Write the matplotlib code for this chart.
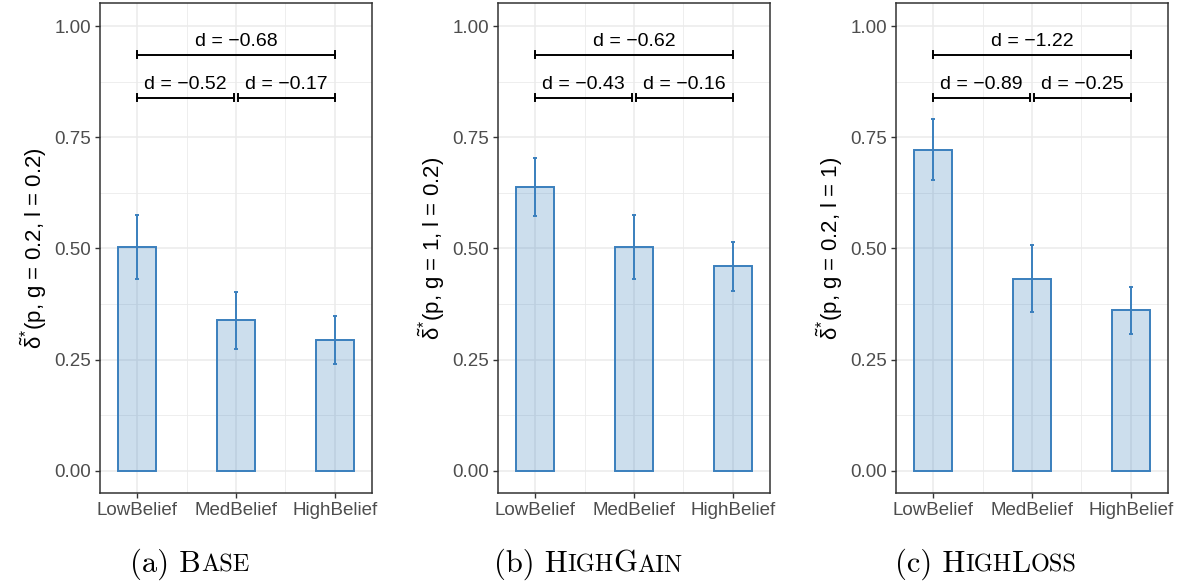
import numpy as np
import matplotlib
matplotlib.use("Agg")
import matplotlib.pyplot as plt
from matplotlib.offsetbox import TextArea, HPacker, AnnotationBbox

plt.rcParams['font.family'] = ['Liberation Sans', 'DejaVu Sans']
plt.rcParams['mathtext.fontset'] = 'custom'
plt.rcParams['mathtext.rm'] = 'Liberation Sans'
plt.rcParams['mathtext.it'] = 'Liberation Sans'

# data
categories = ['LowBelief', 'MedBelief', 'HighBelief']

base_mean = [0.504, 0.339, 0.293]
base_low = [0.432, 0.274, 0.241]
base_high = [0.576, 0.403, 0.347]
base_d = ['d = \u22120.52', 'd = \u22120.17', 'd = \u22120.68']

gain_mean = [0.639, 0.504, 0.461]
gain_low = [0.573, 0.432, 0.404]
gain_high = [0.704, 0.576, 0.514]
gain_d = ['d = \u22120.43', 'd = \u22120.16', 'd = \u22120.62']

loss_mean = [0.722, 0.432, 0.361]
loss_low = [0.653, 0.358, 0.308]
loss_high = [0.791, 0.508, 0.414]
loss_d = ['d = \u22120.89', 'd = \u22120.25', 'd = \u22121.22']

ylabels = [r'$\tilde{\delta}^{*}$(p, g = 0.2, l = 0.2)',
           r'$\tilde{\delta}^{*}$(p, g = 1, l = 0.2)',
           r'$\tilde{\delta}^{*}$(p, g = 0.2, l = 1)']

# captions split into (text, small caps?) pieces
captions = [[('(a) B', False), ('ASE', True)],
            [('(b) H', False), ('IGH', True), ('G', False), ('AIN', True)],
            [('(c) H', False), ('IGH', True), ('L', False), ('OSS', True)]]

panels = [(base_mean, base_low, base_high, base_d),
          (gain_mean, gain_low, gain_high, gain_d),
          (loss_mean, loss_low, loss_high, loss_d)]

edge = '#3A7FBD'
fill = (0.23, 0.50, 0.74, 0.26)
grid_col = '#EBEBEB'
text_grey = '#4D4D4D'

fig = plt.figure(figsize=(11.84, 5.85), dpi=100)

lefts = [100, 498, 896]
caption_x = [190, 588, 986]
W, H = 1184, 585

x = np.arange(1, 4)

for i, (mean, low, high, dlab) in enumerate(panels):
    ax = fig.add_axes([lefts[i] / W, (H - 493) / H, 272 / W, 490 / H])
    ax.set_xlim(0.626, 3.374)
    ax.set_ylim(-0.05, 1.052)

    ax.set_yticks([0, 0.25, 0.5, 0.75, 1.0])
    ax.set_yticks([0.125, 0.375, 0.625, 0.875], minor=True)
    ax.set_xticks(x)
    ax.set_xticks([1.5, 2.5], minor=True)
    ax.set_xticklabels(categories)
    ax.set_yticklabels(['0.00', '0.25', '0.50', '0.75', '1.00'])
    ax.grid(which='major', color=grid_col, lw=1.1)
    ax.grid(which='minor', color=grid_col, lw=0.6)
    ax.set_axisbelow(True)
    ax.tick_params(which='major', direction='out', length=3.5, width=1.0,
                   color='#333333', labelcolor=text_grey, labelsize=13.5, pad=3)
    ax.tick_params(which='minor', length=0)
    for s in ax.spines.values():
        s.set_color('#333333')
        s.set_linewidth(1.1)

    ax.bar(x, mean, width=0.38, facecolor=fill, edgecolor=edge, linewidth=1.4, zorder=3)
    err = [np.array(mean) - np.array(low), np.array(high) - np.array(mean)]
    ax.errorbar(x, mean, yerr=err, fmt='none', ecolor=edge, elinewidth=1.4,
                capsize=1.2, capthick=1.4, zorder=4)

    # significance brackets
    tip = 0.008
    brackets = [(1, 1.98, 0.839, dlab[0]), (2.02, 3, 0.839, dlab[1]), (1, 3, 0.936, dlab[2])]
    for x0, x1, yb, lab in brackets:
        ax.plot([x0, x1], [yb, yb], color='black', lw=1.4, zorder=5)
        ax.plot([x0, x0], [yb - tip, yb + tip], color='black', lw=1.4, zorder=5)
        ax.plot([x1, x1], [yb - tip, yb + tip], color='black', lw=1.4, zorder=5)
        ax.text((x0 + x1) / 2, yb + 0.01, lab, ha='center', va='bottom',
                fontsize=14, color='black', zorder=6)

    ax.set_ylabel(ylabels[i], fontsize=16, color='black', labelpad=4)

    parts = []
    for t, small in captions[i]:
        parts.append(TextArea(t, textprops=dict(family='cmr10',
                                                 size=17.5 if small else 22,
                                                 color='black')))
    box = HPacker(children=parts, align='baseline', pad=0, sep=0)
    ab = AnnotationBbox(box, (caption_x[i] / W, (H - 564) / H), xycoords='figure fraction',
                        frameon=False, box_alignment=(0.5, 0.5))
    fig.add_artist(ab)

fig.savefig('out.png', dpi=100)
